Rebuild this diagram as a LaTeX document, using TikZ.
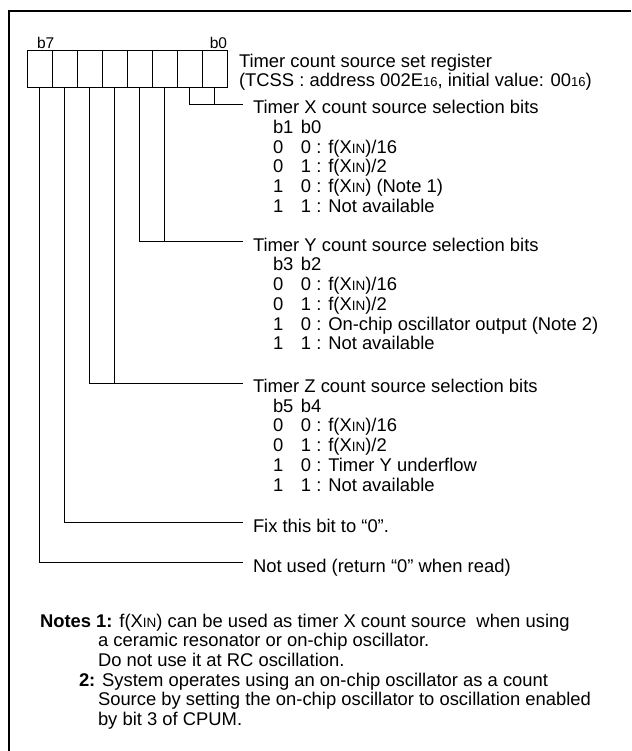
\documentclass[tikz,border=0pt]{standalone}
\usepackage{fontspec}
\setmainfont{Liberation Sans}
\newcommand\xin{X{\fontsize{13.5}{16}\selectfont IN}}
\newcommand\hexsub{{\fontsize{13}{16}\selectfont 16}}
\begin{document}
\begin{tikzpicture}[x=1pt,y=-1pt,
  font=\fontsize{18.4}{19.7}\selectfont,
  cell/.style={draw,line width=0.9pt,minimum width=25pt,minimum height=37pt,inner sep=0pt,outer sep=0pt},
  txt/.style={anchor=base west,inner sep=0pt,outer sep=0pt},
  bitlbl/.style={inner sep=0pt,outer sep=0pt,font=\fontsize{15.5}{17}\selectfont},
  wire/.style={line width=0.9pt},
  frameline/.style={line width=2pt}]
\useasboundingbox (0,0) rectangle (631,751);
% frame
\coordinate (fbl) at (9,751);
\coordinate (ftl) at (9,11);
\coordinate (ftr) at (631,11);
\draw[frameline] (fbl) -- (ftl) -- (ftr);
% register cells
\foreach \i/\b in {0/7,1/6,2/5,3/4,4/3,5/2,6/1,7/0}{
  \node[cell] (c\b) at (39.5+25*\i,68.5) {};
}
\node[bitlbl,anchor=base west] (lb7) at (37,49) {b7};
\node[bitlbl,anchor=base east] (lb0) at (227,49) {b0};
% title
\node[txt] (title1) at (239,67.5) {Timer count source set register};
\node[txt] (title2) at (239,86.5) {(TCSS : address 002E\hexsub, initial value: 00\hexsub)};
% junction coordinates
\coordinate (jX) at (243,104.3);
\coordinate (jY) at (243,241.7);
\coordinate (jZ) at (243,383);
\coordinate (j6) at (243,522.7);
\coordinate (j7) at (243,562.7);
% connectors
\draw[wire] (c1.south) |- (jX);
\draw[wire] (c0.south) -- (c0.south |- jX);
\draw[wire] (c3.south) |- (jY);
\draw[wire] (c2.south) -- (c2.south |- jY);
\draw[wire] (c5.south) |- (jZ);
\draw[wire] (c4.south) -- (c4.south |- jZ);
\draw[wire] (c6.south) |- (j6);
\draw[wire] (c7.south) |- (j7);
% Timer X
\node[txt] (tX) at (253,113.8) {Timer X count source selection bits};
\node[txt] (tabX) at (273,133.5) {\begin{tabular}[t]{@{}p{28pt}@{}l@{}}
b1 & b0\\
0 & 0 : f(\xin)/16\\
0 & 1 : f(\xin)/2\\
1 & 0 : f(\xin) (Note 1)\\
1 & 1 : Not available
\end{tabular}};
% Timer Y
\node[txt] (tY) at (253,251.2) {Timer Y count source selection bits};
\node[txt] (tabY) at (273,270.9) {\begin{tabular}[t]{@{}p{28pt}@{}l@{}}
b3 & b2\\
0 & 0 : f(\xin)/16\\
0 & 1 : f(\xin)/2\\
1 & 0 : On-chip oscillator output (Note 2)\\
1 & 1 : Not available
\end{tabular}};
% Timer Z
\node[txt] (tZ) at (253,392.5) {Timer Z count source selection bits};
\node[txt] (tabZ) at (273,412.2) {\begin{tabular}[t]{@{}p{28pt}@{}l@{}}
b5 & b4\\
0 & 0 : f(\xin)/16\\
0 & 1 : f(\xin)/2\\
1 & 0 : Timer Y underflow\\
1 & 1 : Not available
\end{tabular}};
% b6, b7
\node[txt] (fix) at (253,532) {Fix this bit to “0”.};
\node[txt] (nused) at (253,572) {Not used (return “0” when read)};
% notes
\node[txt] (n1a) at (40,627) {\textbf{Notes 1:} f(\xin) can be used as timer X count source\ \ when using};
\node[txt] (n1b) at (98,646.7) {a ceramic resonator or on-chip oscillator.};
\node[txt] (n1c) at (98,666.4) {Do not use it at RC oscillation.};
\node[txt] (n2a) at (79,686.1) {\textbf{2:} System operates using an on-chip oscillator as a count};
\node[txt] (n2b) at (98,705.8) {Source by setting the on-chip oscillator to oscillation enabled};
\node[txt] (n2c) at (98,725.5) {by bit 3 of CPUM.};
\end{tikzpicture}
\end{document}
